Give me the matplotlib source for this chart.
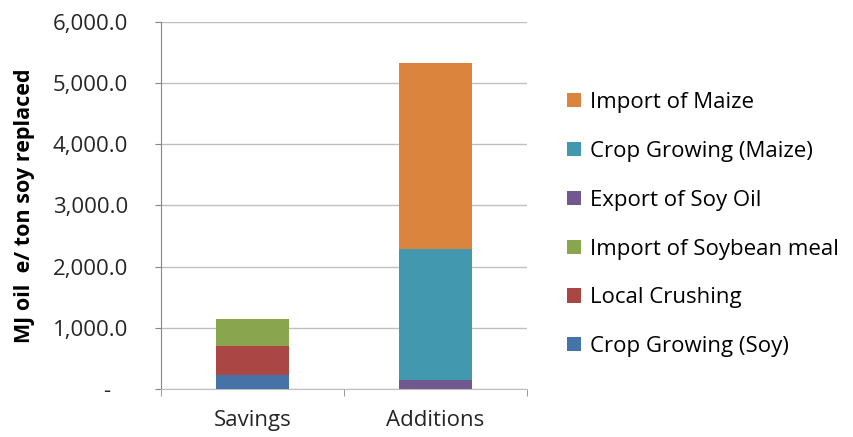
import matplotlib.pyplot as plt
import numpy as np
from matplotlib.ticker import FuncFormatter

plt.rcParams['font.family'] = ['Open Sans', 'DejaVu Sans']

categories = ['Savings', 'Additions']
series = ['Crop Growing (Soy)', 'Local Crushing', 'Import of Soybean meal',
          'Export of Soy Oil', 'Crop Growing (Maize)', 'Import of Maize']
values = {
    'Crop Growing (Soy)': [224, 0],
    'Local Crushing': [483, 0],
    'Import of Soybean meal': [442, 0],
    'Export of Soy Oil': [0, 147],
    'Crop Growing (Maize)': [0, 2141],
    'Import of Maize': [0, 3039],
}
colors = ['#4572A7', '#AA4643', '#89A54E', '#71588F', '#4198AF', '#DB843D']

fig = plt.figure(figsize=(8.54, 4.37), dpi=100)
ax = fig.add_axes([0.1885, 0.1098, 0.4285, 0.84])

x = np.arange(len(categories))
bottom = np.zeros(len(categories))
handles = []
for name, c in zip(series, colors):
    v = np.array(values[name], dtype=float)
    h = ax.bar(x, v, 0.4, bottom=bottom, color=c, label=name, zorder=3)
    handles.append(h)
    bottom += v

ax.set_xlim(-0.5, 1.5)
ax.set_ylim(0, 6000)
ax.set_yticks(np.arange(0, 6001, 1000))
ax.yaxis.set_major_formatter(FuncFormatter(
    lambda v, p: '-   ' if v == 0 else '{:,.1f}'.format(v)))
ax.set_xticks(x)
ax.set_xticklabels(categories)
ax.set_xticks([-0.5, 0.5, 1.5], minor=True)
ax.tick_params(axis='x', which='major', length=0, pad=15, labelsize=16,
               colors='#262626')
ax.tick_params(axis='x', which='minor', length=5, color='#868686')
ax.tick_params(axis='y', length=4.5, color='#868686', labelsize=16,
               labelcolor='#262626', pad=19)
ax.grid(axis='y', color='#BFBFBF', linewidth=1, zorder=0)

for s in ['top', 'right']:
    ax.spines[s].set_visible(False)
ax.spines['left'].set_color('#868686')
ax.spines['bottom'].set_color('#BFBFBF')

ax.set_ylabel('MJ oil  e/ ton soy replaced', fontsize=15.5, fontweight='bold')
ax.yaxis.set_label_coords(-0.345, 0.5)

fig.legend(handles[::-1], series[::-1], loc='center left',
           bbox_to_anchor=(0.641, 0.486), frameon=False, fontsize=16,
           handlelength=0.6, handleheight=0.6, handletextpad=0.4,
           labelspacing=1.25)

fig.savefig('out.png', dpi=100)
